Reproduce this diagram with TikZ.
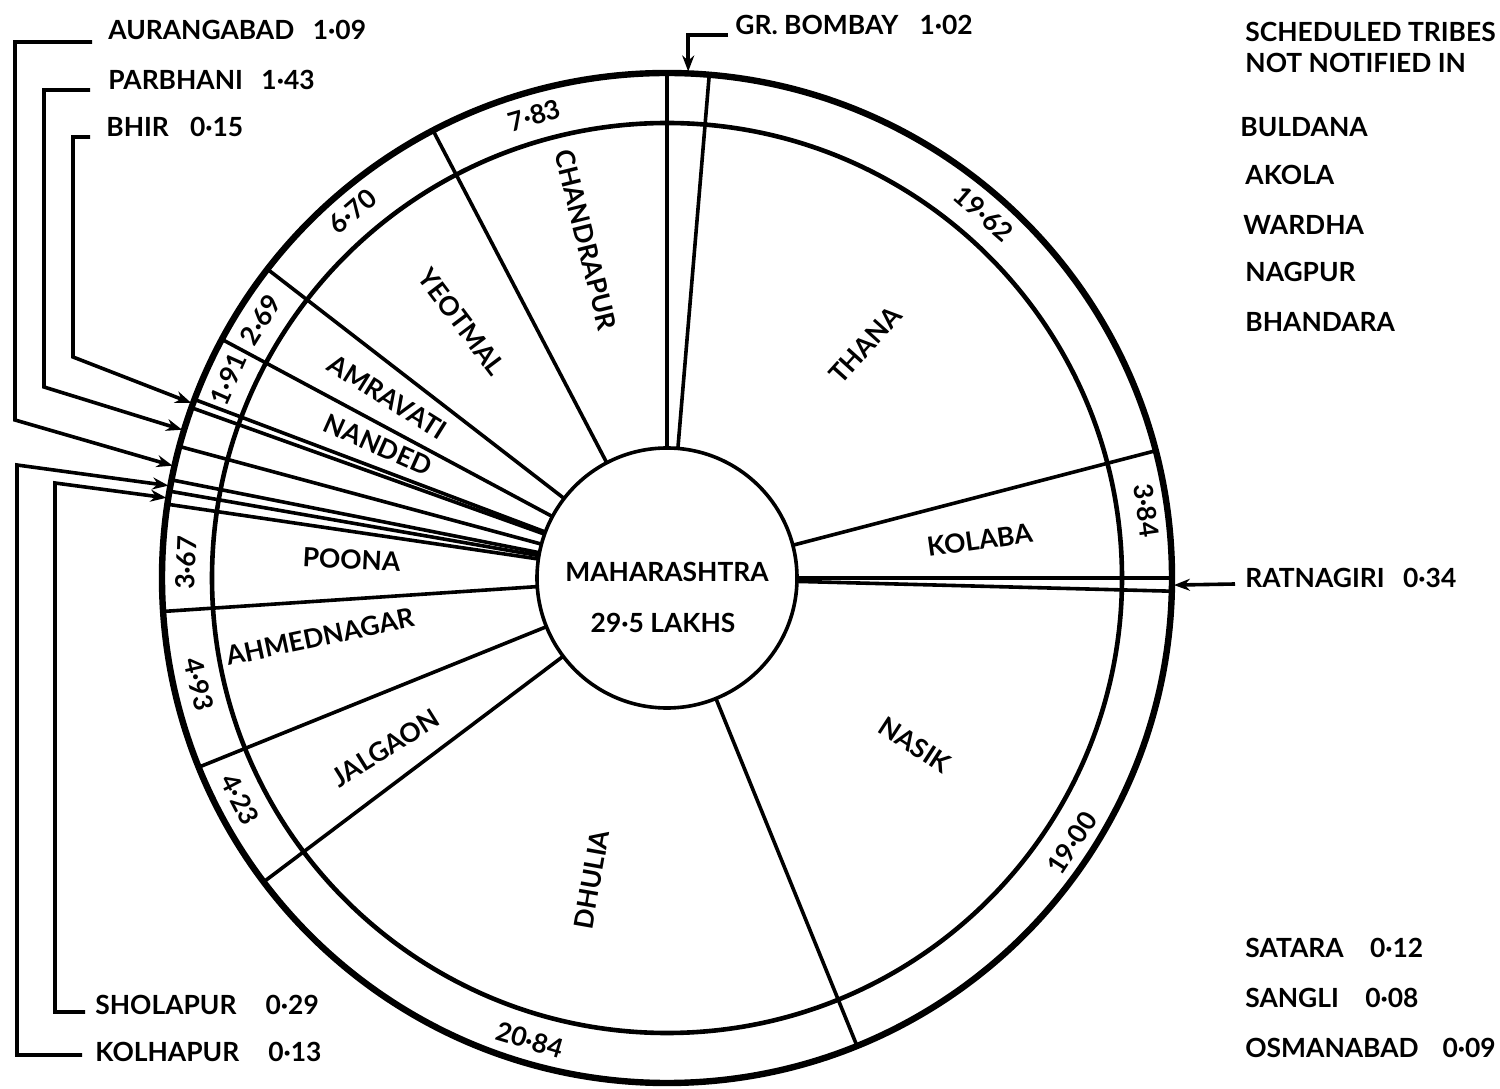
\documentclass[tikz,border=0pt]{standalone}
\usepackage{fontspec}
\setmainfont{Lato}
\usetikzlibrary{arrows.meta}
\begin{document}
\begin{tikzpicture}[x=0.5pt,y=0.5pt,
  every node/.style={font=\fontsize{13.2}{15}\selectfont\bfseries, inner sep=0pt},
  rimline/.style={line width=3.2pt},
  ringline/.style={line width=2.3pt},
  divider/.style={line width=1.8pt},
  leader/.style={line width=1.8pt},
  tipped/.style={-{Stealth[length=8pt,width=6pt]}},
  side/.style={anchor=west},
]
\useasboundingbox[fill=white] (0,0) rectangle (1500,1088);
\begin{scope}[shift={(667,510)}]
  \draw[rimline] (0,0) circle[radius=505];
  \draw[ringline] (0,0) circle[radius=455];
  \foreach \a in {90,85.2,14.6,0,-1.5,-67.9,-143,-158,183.8,171.6,170.1,168.8,164.9,160.3,159.3,151.8,142.3,117.6}
    \draw[divider] (\a:130) -- (\a:505);
  \node[circle,draw,line width=1.8pt,minimum size=130pt] (M) at (0,0) {};
  \node (mah) at (0,6) {MAHARASHTRA};
  \node (lakh) at (-4,-45) {29·5 LAKHS};
  % ring values
  \node[rotate=16] (v783) at (106:481) {7·83};
  \node[rotate=-41] (v1962) at (49:483) {19·62};
  \node[rotate=-82] (v384) at (8:484) {3·84};
  \node[rotate=57] (v1900) at (-33.2:484) {19·00};
  \node[rotate=-16.5] (v2084) at (-106.5:482) {20·84};
  \node[rotate=-62.6] (v423) at (-152.6:481) {4·23};
  \node[rotate=-77] (v493) at (-167.2:480) {4·93};
  \node[rotate=88] (v367) at (178.2:481) {3·67};
  \node[rotate=66] (v191) at (155.6:482) {1·91};
  \node[rotate=58] (v269) at (147.6:481) {2·69};
  \node[rotate=40.6] (v670) at (130.6:483) {6·70};
  % district names
  \node[rotate=-76] (chan) at (103.5:348) {CHANDRAPUR};
  \node[rotate=48] (than) at (49.6:306) {THANA};
  \node[rotate=8] (kol) at (6.9:315) {KOLABA};
  \node[rotate=-33] (nas) at (-34:299) {NASIK};
  \node[rotate=80] (dhu) at (-104:311) {DHULIA};
  \node[rotate=32] (jal) at (-148.9:329) {JALGAON};
  \node[rotate=12] (ahm) at (-170.4:352) {AHMEDNAGAR};
  \node[rotate=-3] (poo) at (176.7:316) {POONA};
  \node[rotate=-24] (nan) at (155.3:318) {NANDED};
  \node[rotate=-32] (amr) at (147.1:333) {AMRAVATI};
  \node[rotate=-53] (yeo) at (128.7:328) {YEOTMAL};
  % arrow targets
  \coordinate (tGR) at (87.6:507);
  \coordinate (tRT) at (-0.8:507);
  \coordinate (tBH) at (159.8:507);
  \coordinate (tPA) at (163.0:507);
  \coordinate (tAU) at (167.2:507);
  \coordinate (tKO) at (169.5:507);
  \coordinate (tSH) at (170.9:507);
\end{scope}
% outside labels
\node[side] (aur) at (108,1058) {AURANGABAD\hspace{0.7em}1·09};
\node[side] (par) at (108,1008) {PARBHANI\hspace{0.7em}1·43};
\node[side] (bhir) at (106,961) {BHIR\hspace{0.8em}0·15};
\node[side] (gr) at (735,1063) {GR. BOMBAY\hspace{0.8em}1·02};
\node[side] (sch1) at (1245,1056) {SCHEDULED TRIBES};
\node[side] (sch2) at (1245,1025) {NOT NOTIFIED IN};
\node[side] (bul) at (1240,961) {BULDANA};
\node[side] (ako) at (1245,913) {AKOLA};
\node[side] (war) at (1243,863) {WARDHA};
\node[side] (nag) at (1245,816) {NAGPUR};
\node[side] (bha) at (1245,766) {BHANDARA};
\node[side] (rat) at (1245,510) {RATNAGIRI\hspace{0.7em}0·34};
\node[side] (sat) at (1245,140) {SATARA\hspace{1em}0·12};
\node[side] (san) at (1245,90) {SANGLI\hspace{1em}0·08};
\node[side] (osm) at (1245,40) {OSMANABAD\hspace{0.9em}0·09};
\node[side] (sho) at (95,83) {SHOLAPUR\hspace{1.1em}0·29};
\node[side] (klh) at (95,36) {KOLHAPUR\hspace{1.1em}0·13};
% leaders
\draw[leader,tipped] ([xshift=-8pt,yshift=-6pt]aur.west) -- ++(-77,0) -- ++(0,-378) -- (tAU);
\draw[leader,tipped] ([xshift=-9pt,yshift=-5pt]par.west) -- ++(-46,0) -- ++(0,-297) -- (tPA);
\draw[leader,tipped] ([xshift=-8pt,yshift=-5pt]bhir.west) -- ++(-17,0) -- ++(0,-220) -- (tBH);
\draw[leader,tipped] ([xshift=-5pt,yshift=-3.5pt]sho.west) -- ++(-30,0) -- ++(0,529) -- (tSH);
\draw[leader,tipped] ([xshift=-6.5pt,yshift=-1.5pt]klh.west) -- ++(-65,0) -- ++(0,590) -- (tKO);
\draw[leader,tipped] ([xshift=-3.5pt,yshift=-5pt]gr.west) -| (tGR);
\draw[leader,tipped] ([xshift=-5pt,yshift=-3pt]rat.west) -- (tRT);
\end{tikzpicture}
\end{document}
